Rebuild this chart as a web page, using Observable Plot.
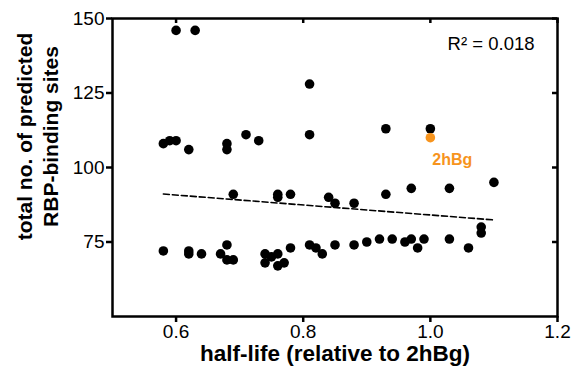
<!DOCTYPE html>
<html>
<head>
<meta charset="utf-8">
<script src="https://cdn.jsdelivr.net/npm/d3@7"></script>
<script src="https://cdn.jsdelivr.net/npm/@observablehq/plot@0.6"></script>
<style>
  html, body { margin: 0; padding: 0; background: #fff; }
  #chart svg { display: block; }
</style>
</head>
<body>
<div id="chart"></div>
<script>
// half-life (relative to 2hBg) for each transcript
const halfLife = [
  0.60, 0.63, 0.81,
  0.58, 0.59, 0.60, 0.62, 0.68, 0.68, 0.71, 0.73, 0.81, 0.93, 1.00,
  0.69, 0.76, 0.76, 0.78, 0.84, 0.85, 0.88, 0.93, 0.97, 1.03, 1.10,
  0.58, 0.62, 0.62, 0.64, 0.67, 0.68, 0.68, 0.69, 0.74, 0.74, 0.75, 0.76, 0.76, 0.77, 0.78,
  0.81, 0.82, 0.83, 0.85, 0.88, 0.90, 0.92, 0.94, 0.96, 0.97, 0.98, 0.99, 1.03, 1.06, 1.08, 1.08
];
// total no. of predicted RBP-binding sites
const sites = [
  146, 146, 128,
  108, 109, 109, 106, 108, 106, 111, 109, 111, 113, 113,
  91, 91, 90, 91, 90, 88, 88, 91, 93, 93, 95,
  72, 72, 71, 71, 71, 74, 69, 69, 71, 68, 70, 71, 67, 68, 73,
  74, 73, 71, 74, 74, 75, 76, 76, 75, 76, 73, 76, 76, 73, 80, 78
];
// reference transcript (2hBg)
const refName = ["2hBg"];
const refHalfLife = [1.00];
const refSites = [110];

// linear fit as drawn in the figure (end points)
const fitHalfLife = [0.58, 1.10];
const fitSites = [91.1, 82.4];

const xTicks = [0.6, 0.8, 1.0, 1.2];
const yTicks = [75, 100, 125, 150];
const xLabel = "half-life (relative to 2hBg)";
const yLabel = "total no. of predicted\nRBP-binding sites";
const r2Text = ["R\u00B2 = 0.018"];

const points = halfLife.map((x, i) => ({x, y: sites[i]}));
const ref = refName.map((name, i) => ({name, x: refHalfLife[i], y: refSites[i]}));
const fit = fitHalfLife.map((x, i) => ({x, y: fitSites[i]}));

const orange = "#f7941d";
const W = 573, H = 378, mL = 112, mR = 16, mT = 18, mB = 62, inTick = 5;

const chart = Plot.plot({
  width: W,
  height: H,
  marginLeft: mL,
  marginRight: mR,
  marginTop: mT,
  marginBottom: mB,
  style: {fontFamily: "'Liberation Sans', Arial, sans-serif", fontSize: "19px", color: "#000", background: "#fff"},
  x: {domain: [0.5, 1.2]},
  y: {domain: [50, 150]},
  marks: [
    Plot.frame({stroke: "#000", strokeWidth: 2.5}),
    Plot.axisX({anchor: "bottom", ticks: xTicks, tickFormat: d3.format(".1f"), tickSize: 6, tickPadding: 2, strokeWidth: 2.5, label: null}),
    Plot.axisY({anchor: "left", ticks: yTicks, tickSize: 6, tickPadding: 2, strokeWidth: 2.5, label: null}),
    // inward mirror ticks on the top and right edges
    Plot.tickX(xTicks, {x: d => d, stroke: "#000", strokeWidth: 2.5, insetBottom: H - mT - mB - inTick}),
    Plot.tickY(yTicks, {y: d => d, stroke: "#000", strokeWidth: 2.5, insetLeft: W - mL - mR - inTick}),
    Plot.line(fit, {x: "x", y: "y", stroke: "#000", strokeWidth: 1.6, strokeDasharray: "6,3"}),
    Plot.dot(points, {x: "x", y: "y", r: 4.8, fill: "#000"}),
    Plot.dot(ref, {x: "x", y: "y", r: 4.8, fill: orange}),
    Plot.text(ref, {x: "x", y: "y", text: "name", fill: orange, fontWeight: "bold", fontSize: 16, dx: 22, dy: 22}),
    Plot.text(r2Text, {frameAnchor: "top-right", text: d => d, fontSize: 18.5, dx: -23, dy: 18, textAnchor: "end"}),
    Plot.text([xLabel], {frameAnchor: "bottom", text: d => d, fontWeight: "bold", fontSize: 22.5, dy: 44, textAnchor: "middle"}),
    Plot.text([yLabel], {frameAnchor: "left", text: d => d, fontWeight: "bold", fontSize: 21, rotate: -90, dx: -76, dy: -31, lineHeight: 1.25, textAnchor: "middle"})
  ]
});
document.getElementById("chart").appendChild(chart);
</script>
</body>
</html>
